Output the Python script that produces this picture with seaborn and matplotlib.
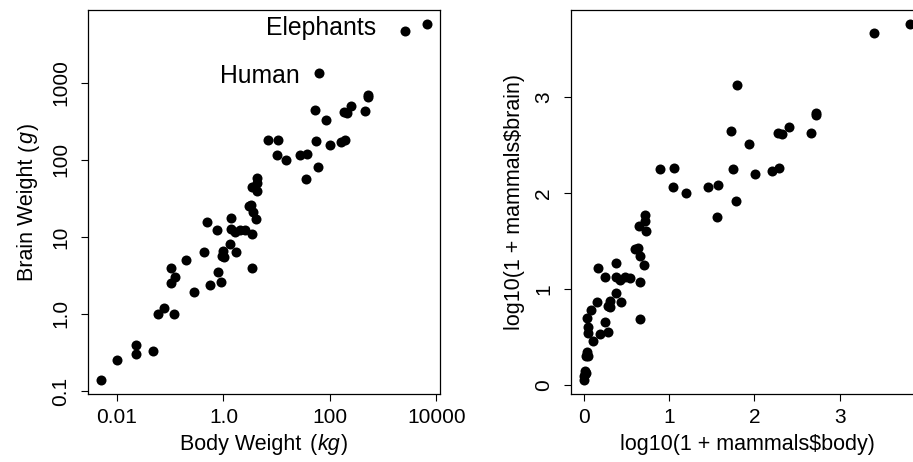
import numpy as np
import pandas as pd
import matplotlib
matplotlib.use("Agg")
import matplotlib.pyplot as plt
from matplotlib.ticker import NullLocator, FixedLocator, FixedFormatter
from matplotlib.transforms import IdentityTransform
import seaborn as sns

# MASS::mammals data (body in kg, brain in g)
animals = ["Arctic fox", "Owl monkey", "Mountain beaver", "Cow", "Grey wolf", "Goat",
           "Roe deer", "Guinea pig", "Verbet", "Chinchilla", "Ground squirrel",
           "Arctic ground squirrel", "African giant pouched rat", "Lesser short-tailed shrew",
           "Star-nosed mole", "Nine-banded armadillo", "Tree hyrax", "N.A. opossum",
           "Asian elephant", "Big brown bat", "Donkey", "Horse", "European hedgehog",
           "Patas monkey", "Cat", "Galago", "Genet", "Giraffe", "Gorilla", "Grey seal",
           "Rock hyrax-a", "Human", "African elephant", "Water opossum", "Rhesus monkey",
           "Kangaroo", "Yellow-bellied marmot", "Golden hamster", "Mouse", "Little brown bat",
           "Slow loris", "Okapi", "Rabbit", "Sheep", "Jaguar", "Chimpanzee", "Baboon",
           "Desert hedgehog", "Giant armadillo", "Rock hyrax-b", "Raccoon", "Rat",
           "E. American mole", "Mole rat", "Musk shrew", "Pig", "Echidna", "Brazilian tapir",
           "Tenrec", "Phalanger", "Tree shrew", "Red fox"]
body = [3.385, 0.480, 1.350, 465.000, 36.330, 27.660, 14.830, 1.040, 4.190, 0.425,
        0.101, 0.920, 1.000, 0.005, 0.060, 3.500, 2.000, 1.700, 2547.000, 0.023,
        187.100, 521.000, 0.785, 10.000, 3.300, 0.200, 1.410, 529.000, 207.000, 85.000,
        0.750, 62.000, 6654.000, 3.500, 6.800, 35.000, 4.050, 0.120, 0.023, 0.010,
        1.400, 250.000, 2.500, 55.500, 100.000, 52.160, 10.550, 0.550, 60.000, 3.600,
        4.288, 0.280, 0.075, 0.122, 0.048, 192.000, 3.000, 160.000, 0.900, 1.620,
        0.104, 4.235]
brain = [44.50, 15.50, 8.10, 423.00, 119.50, 115.00, 98.20, 5.50, 58.00, 6.40,
         4.00, 5.70, 6.60, 0.14, 1.00, 10.80, 12.30, 6.30, 4603.00, 0.30,
         419.00, 655.00, 3.50, 115.00, 25.60, 5.00, 17.50, 680.00, 406.00, 325.00,
         12.30, 1320.00, 5712.00, 3.90, 179.00, 56.00, 17.00, 1.00, 0.40, 0.25,
         12.50, 490.00, 12.10, 175.00, 157.00, 440.00, 179.50, 2.40, 81.00, 21.00,
         39.20, 1.90, 1.20, 3.00, 0.33, 180.00, 25.00, 169.00, 2.60, 11.40,
         2.50, 50.40]

left_xticks = [0.01, 1.0, 100.0, 10000.0]
left_xticklabels = ["0.01", "1.0", "100", "10000"]
left_yticks = [0.1, 1.0, 10.0, 100.0, 1000.0]
left_yticklabels = ["0.1", "1.0", "10", "100", "1000"]
right_ticks = [0, 1, 2, 3]
right_ticklabels = ["0", "1", "2", "3"]

# axis titles (left one has an italic unit)
left_xlabel_parts = ["Body Weight", "(", "kg", ")"]
left_ylabel_parts = ["Brain Weight", "(", "g", ")"]
right_xlabel = "log10(1 + mammals$body)"
right_ylabel = "log10(1 + mammals$brain)"

# annotation labels (text, x, y in data coords of the left panel)
label_texts = ["Elephants", "Human"]
label_x = [730, 27.5]
label_y = [4200, 990]

df = pd.DataFrame({"animal": animals, "body": body, "brain": brain})
df["lbody"] = np.log10(1 + df["body"])
df["lbrain"] = np.log10(1 + df["brain"])

sns.set_style("ticks")
plt.rcParams.update({
    "font.family": ["Liberation Sans", "DejaVu Sans"],
    "axes.edgecolor": "black",
    "axes.linewidth": 0.9,
    "xtick.color": "black",
    "ytick.color": "black",
    "ytick.alignment": "center",
    "text.color": "black",
    "axes.labelcolor": "black",
})

W, H = 913, 462
fig = plt.figure(figsize=(W / 100, H / 100), dpi=100)
ax1 = fig.add_axes([88 / W, 68 / H, 352 / W, 384 / H])
ax2 = fig.add_axes([571 / W, 68 / H, 352 / W, 384 / H])


def rlim(vals, log=False):
    v = np.log10(vals) if log else np.asarray(vals)
    lo, hi = np.min(v), np.max(v)
    e = 0.04 * (hi - lo)
    lo, hi = lo - e, hi + e
    return (10 ** lo, 10 ** hi) if log else (lo, hi)


PT = 52
LABEL_FS = 15.5
TICK_FS = 15

sns.scatterplot(data=df, x="body", y="brain", ax=ax1, color="black", s=PT,
                linewidth=0, legend=False)
ax1.set_xscale("log")
ax1.set_yscale("log")
ax1.set_xlim(*rlim(df["body"], log=True))
ax1.set_ylim(*rlim(df["brain"], log=True))
ax1.xaxis.set_major_locator(FixedLocator(left_xticks))
ax1.xaxis.set_major_formatter(FixedFormatter(left_xticklabels))
ax1.yaxis.set_major_locator(FixedLocator(left_yticks))
ax1.yaxis.set_major_formatter(FixedFormatter(left_yticklabels))
ax1.xaxis.set_minor_locator(NullLocator())
ax1.yaxis.set_minor_locator(NullLocator())
ax1.set_xlabel("")
ax1.set_ylabel("")
for t, x, y in zip(label_texts, label_x, label_y):
    ax1.text(x, y, t, ha="right", va="baseline", fontsize=17.8)

sns.scatterplot(data=df, x="lbody", y="lbrain", ax=ax2, color="black", s=PT,
                linewidth=0, legend=False)
ax2.set_xlim(*rlim(df["lbody"]))
ax2.set_ylim(*rlim(df["lbrain"]))
ax2.xaxis.set_major_locator(FixedLocator(right_ticks))
ax2.xaxis.set_major_formatter(FixedFormatter(right_ticklabels))
ax2.yaxis.set_major_locator(FixedLocator(right_ticks))
ax2.yaxis.set_major_formatter(FixedFormatter(right_ticklabels))
ax2.set_xlabel("")
ax2.set_ylabel("")

for ax in (ax1, ax2):
    for s in ax.spines.values():
        s.set_visible(True)
        s.set_color("black")
        s.set_linewidth(0.9)
    ax.grid(False)
    ax.tick_params(axis="both", direction="out", length=5, width=0.8, labelsize=TICK_FS)
    ax.tick_params(axis="x", pad=5)
    ax.tick_params(axis="y", pad=8, labelrotation=90)

renderer = fig.canvas.get_renderer()


def rich_label(ax, parts, styles, gaps, xfrac, yfrac, vertical=False):
    """Lay out text pieces (with own styles) centred on the axis, along a baseline."""
    texts, widths = [], []
    for s, st in zip(parts, styles):
        t = fig.text(0, 0, s, fontsize=LABEL_FS, style=st, transform=IdentityTransform(),
                     ha="left", va="baseline")
        widths.append(t.get_window_extent(renderer).width)
        texts.append(t)
    total = sum(widths) + sum(gaps)
    ax_x, ax_y = ax.transAxes.transform((xfrac, yfrac))
    pos = (ax_y if vertical else ax_x) - total / 2
    for t, w, g in zip(texts, widths, gaps):
        pos += g
        if vertical:
            t.set_rotation(90)
            t.set_rotation_mode("anchor")
            t.set_position((ax_x, pos))
        else:
            t.set_position((pos, ax_y))
        pos += w


XLAB_Y = -0.146
rich_label(ax1, left_xlabel_parts, ["normal", "normal", "italic", "normal"],
           [0, 8, 1, 1], 0.5, XLAB_Y)
rich_label(ax1, left_ylabel_parts, ["normal", "normal", "italic", "normal"],
           [0, 8, 1, 1], -0.155, 0.5, vertical=True)
rich_label(ax2, [right_xlabel], ["normal"], [0], 0.5, XLAB_Y)
rich_label(ax2, [right_ylabel], ["normal"], [0], -0.144, 0.5, vertical=True)

fig.savefig("out.png", dpi=100)
